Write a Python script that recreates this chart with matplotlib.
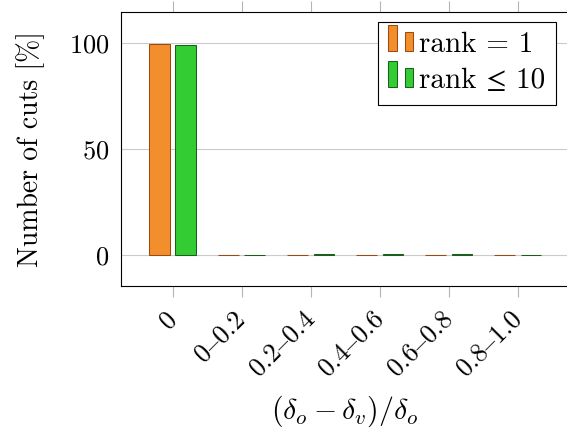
import numpy as np
import matplotlib
matplotlib.use("Agg")
import matplotlib.pyplot as plt
import matplotlib.transforms as mtransforms
from matplotlib.patches import Rectangle, Patch
from matplotlib.legend_handler import HandlerBase

plt.rcParams['font.family'] = ['cmr10', 'STIXGeneral', 'DejaVu Serif']
plt.rcParams['mathtext.fontset'] = 'cm'
plt.rcParams['axes.formatter.use_mathtext'] = True
plt.rcParams['axes.unicode_minus'] = False

bins = ['0', '0–0.2', '0.2–0.4', '0.4–0.6', '0.6–0.8', '0.8–1.0']
rank1 = [99.4, 0.05, 0.2, 0.2, 0.2, 0.05]
rank10 = [99.2, 0.05, 0.3, 0.3, 0.3, 0.05]
yticks = [0, 50, 100]
labels = ['rank = 1', 'rank ≤ 10']

orange, orange_edge = '#f28e2b', '#9c4a12'
green, green_edge = '#33cd33', '#1d5e1d'


class TwoBars(HandlerBase):
    # pgfplots style ybar legend image: two little bars
    def create_artists(self, legend, orig_handle, xdescent, ydescent,
                       width, height, fontsize, trans):
        fc = orig_handle.get_facecolor()
        ec = orig_handle.get_edgecolor()
        x0, y0 = -xdescent, -ydescent + 0.05 * height
        w = 0.33 * width
        r1 = Rectangle((x0, y0), w, 1.3 * height, fc=fc, ec=ec, lw=0.75, transform=trans)
        r2 = Rectangle((x0 + 0.67 * width, y0), w, 0.95 * height, fc=fc, ec=ec, lw=0.75, transform=trans)
        return [r1, r2]


fig = plt.figure(figsize=(5.67, 4.34), dpi=100)
ax = fig.add_axes([0.2134, 0.341, 0.790, 0.6314])

x = np.arange(len(bins))
w = 0.3
ax.bar(x - 0.19, rank1, w, color=orange, edgecolor=orange_edge, linewidth=0.75, zorder=3)
ax.bar(x + 0.19, rank10, w, color=green, edgecolor=green_edge, linewidth=0.75, zorder=3)

ax.set_xlim(-0.749, 5.74)
ax.set_ylim(-14.6, 114.6)
ax.set_yticks(yticks)
ax.set_xticks(x)
ax.set_xticklabels(bins, rotation=45, ha='right', va='center', rotation_mode='anchor')
shift = mtransforms.ScaledTranslation(-0.05, 0, fig.dpi_scale_trans)
for lab in ax.get_xticklabels():
    lab.set_transform(lab.get_transform() + shift)
ax.yaxis.grid(True, color='#cacaca', linewidth=0.8, zorder=0)
ax.set_axisbelow(True)

ax.tick_params(axis='x', which='both', direction='out', length=8, width=0.8,
               color='#b5b5b5', top=True, labelsize=19, pad=13)
ax.tick_params(axis='y', length=0, labelsize=19, pad=8.5)
for s in ax.spines.values():
    s.set_linewidth(0.8)

ax.set_ylabel('Number of cuts [%]', fontsize=20, labelpad=17)
ax.set_xlabel(r'$(\delta_o-\delta_v)/\delta_o$', fontsize=21.5, labelpad=9.5)

h1 = Patch(facecolor=orange, edgecolor=orange_edge)
h2 = Patch(facecolor=green, edgecolor=green_edge)
leg = ax.legend([h1, h2], labels,
                handler_map={Patch: TwoBars()}, loc='upper right',
                bbox_to_anchor=(0.9706, 0.9646), borderaxespad=0, fontsize=21,
                fancybox=False, framealpha=1, edgecolor='black',
                handlelength=0.86, handleheight=0.7, handletextpad=0.2,
                borderpad=0.35, labelspacing=0.33)
leg.get_frame().set_linewidth(0.8)

fig.savefig('out.png', dpi=100)
